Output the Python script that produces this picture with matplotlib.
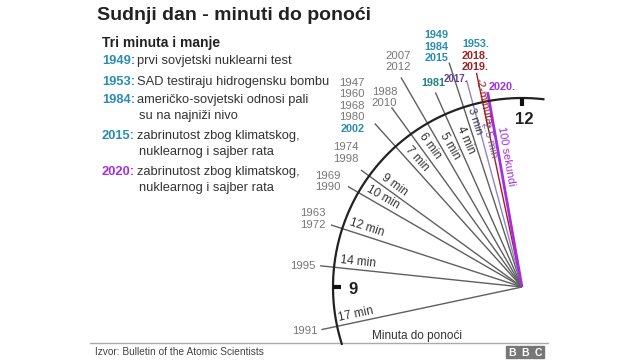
import numpy as np
import matplotlib
matplotlib.use("Agg")
import matplotlib.pyplot as plt
from matplotlib.patches import Rectangle

plt.rcParams['font.family'] = ['Liberation Sans', 'DejaVu Sans']

# podaci: minuti do ponoći i godine
minutes = [17, 14, 12, 10, 9, 7, 6, 5, 4, 3, 2.5, 2, 100 / 60]
line_labels = ["17 min", "14 min", "12 min", "10 min", "9 min", "7 min", "6 min",
               "5 min", "4 min", "3 min", "2.5 min", "-2-minuta-", "100 sekundi"]
years = [["1991"], ["1995"], ["1963", "1972"], ["1969", "1990"], ["1974", "1998"],
         ["1947", "1960", "1968", "1980", "2002"], ["1988", "2010"], ["2007", "2012"],
         ["1981"], ["1949", "1984", "2015"], ["2017."], ["1953.", "2018.", "2019."],
         ["2020."]]

legend_years = ["1949:", "1953:", "1984:", "2015:", "2020:"]
legend_texts = ["prvi sovjetski nuklearni test",
                "SAD testiraju hidrogensku bombu",
                "američko-sovjetski odnosi pali\nsu na najniži nivo",
                "zabrinutost zbog klimatskog,\nnuklearnog i sajber rata",
                "zabrinutost zbog klimatskog,\nnuklearnog i sajber rata"]

TEAL = "#2a8cb4"
PURPLE = "#a52fe0"
year_colors = {"2002": TEAL, "1949": TEAL, "1984": TEAL, "2015": TEAL, "1953.": TEAL,
               "1981": "#23837c", "2017.": "#5e3f94", "2018.": "#a3201f",
               "2019.": "#a3201f", "2020.": PURPLE}
line_colors = {10: "#8f86c8", 11: "#a3201f", 12: PURPLE}
label_colors = {10: "#6c5fb0", 11: "#a3201f", 12: PURPLE}

# raspored (u pikselima)
CX, CY, R = 522, 73, 189
tail_r = [205, 203, 201, 201, 199, 220, 222, 242, 213, 236, 214, 219, 198]
text_r = [168, 166, 166, 165, 163, 166, 168, 158, 157, 172, 150, 187, 132]
text_off = [2, 2, 2, 2, 2, 2, 2, 2, 2, 2, 2, -4, 2]
# pomak bloka godina od kraja linije: dx, dy, ha
year_pos = [(-4, 1, 'right'), (-5, 0, 'right'), (-5, -6, 'right'), (-7, -5, 'right'),
            (-2, -17, 'right'), (-10, -18, 'right'), (-7, -10, 'center'),
            (-3, -16, 'center'), (-2, -9, 'center'), (-13, -16, 'center'),
            (1, -1, 'right'), (-1, -17, 'center'), (1, -5, 'left')]
LH = 11.5

fig = plt.figure(figsize=(6.4, 3.6), dpi=100)
ax = fig.add_axes([0, 0, 1, 1])
ax.set_xlim(0, 640)
ax.set_ylim(360, 0)
ax.axis('off')


def pt(a, r):
    t = np.radians(a)
    return CX - r * np.sin(t), 360 - (CY + r * np.cos(t))


for i, m in enumerate(minutes):
    a = 6 * m
    x0, y0 = pt(a, 0)
    x1, y1 = pt(a, tail_r[i])
    col = line_colors.get(i, "#5f5f5f")
    lw = 2.0 if i == 12 else 1.0
    ax.plot([x1, x0], [y1, y0], color=col, lw=lw, zorder=2, solid_capstyle='butt')

    # natpis uz liniju
    t = np.radians(a)
    tx, ty = pt(a, text_r[i])
    tx += text_off[i] * np.cos(t)
    ty -= text_off[i] * np.sin(t)
    ax.text(tx, ty, line_labels[i], rotation=a - 90, rotation_mode='anchor',
            ha='center', va='bottom', fontsize=8 if i >= 9 else 8.5,
            color=label_colors.get(i, "#333333"), zorder=4)

    # godine
    dx, dy, ha = year_pos[i]
    n = len(years[i])
    bx, by = x1 + dx, y1 + dy
    for k, yr in enumerate(years[i]):
        yy = by + (k - (n - 1) / 2) * LH
        bold = yr in year_colors
        fs = 7.8 if bold else 8.2
        if yr == "2017.":
            fs = 7
        ax.text(bx, yy, yr, ha=ha, va='center', fontsize=fs,
                color=year_colors.get(yr, "#777777"),
                fontweight='bold' if bold else 'normal')

# luk sata
ang = np.linspace(-6.5, 107.5, 300)
ax.plot([pt(a, R)[0] for a in ang], [pt(a, R)[1] for a in ang],
        color="#222222", lw=1.6, zorder=3)
for a in (0, 90):
    p0, p1 = pt(a, R), pt(a, R - 8)
    ax.plot([p0[0], p1[0]], [p0[1], p1[1]], color="#111111", lw=3, zorder=3,
            solid_capstyle='butt')
ax.text(524, 120, "12", ha='center', va='center', fontsize=12, fontweight='bold',
        color="#222222")
ax.text(353, 290, "9", ha='center', va='center', fontsize=12, fontweight='bold',
        color="#222222")
ax.text(372, 336, "Minuta do ponoći", ha='left', va='center', fontsize=8.5,
        color="#333333")

# naslov i legenda
ax.text(97, 16, "Sudnji dan - minuti do ponoći", ha='left', va='center',
        fontsize=14, fontweight='bold', color="#222222")
ax.text(102, 43, "Tri minuta i manje", ha='left', va='center', fontsize=10,
        fontweight='bold', color="#222222")
leg_y = [61, 82, 100, 136, 172]
for yr, txt, y in zip(legend_years, legend_texts, leg_y):
    col = PURPLE if yr.startswith("2020") else TEAL
    ax.text(102, y, yr, ha='left', va='center', fontsize=9.3, fontweight='bold',
            color=col)
    for k, line in enumerate(txt.split("\n")):
        ax.text(137 if k == 0 else 139, y + k * 15.5, line, ha='left',
                va='center', fontsize=9.3, color="#333333")

# podnožje
ax.plot([90, 548], [343, 343], color="#aaaaaa", lw=1)
ax.text(95, 352, "Izvor: Bulletin of the Atomic Scientists", ha='left',
        va='center', fontsize=7.3, color="#444444")
for k, ch in enumerate("BBC"):
    x = 506 + k * 13
    ax.add_patch(Rectangle((x, 346), 12, 12, color="#777777"))
    ax.text(x + 6, 352.5, ch, ha='center', va='center', fontsize=7.5,
            fontweight='bold', color="white")

fig.savefig("out.png", dpi=100)
